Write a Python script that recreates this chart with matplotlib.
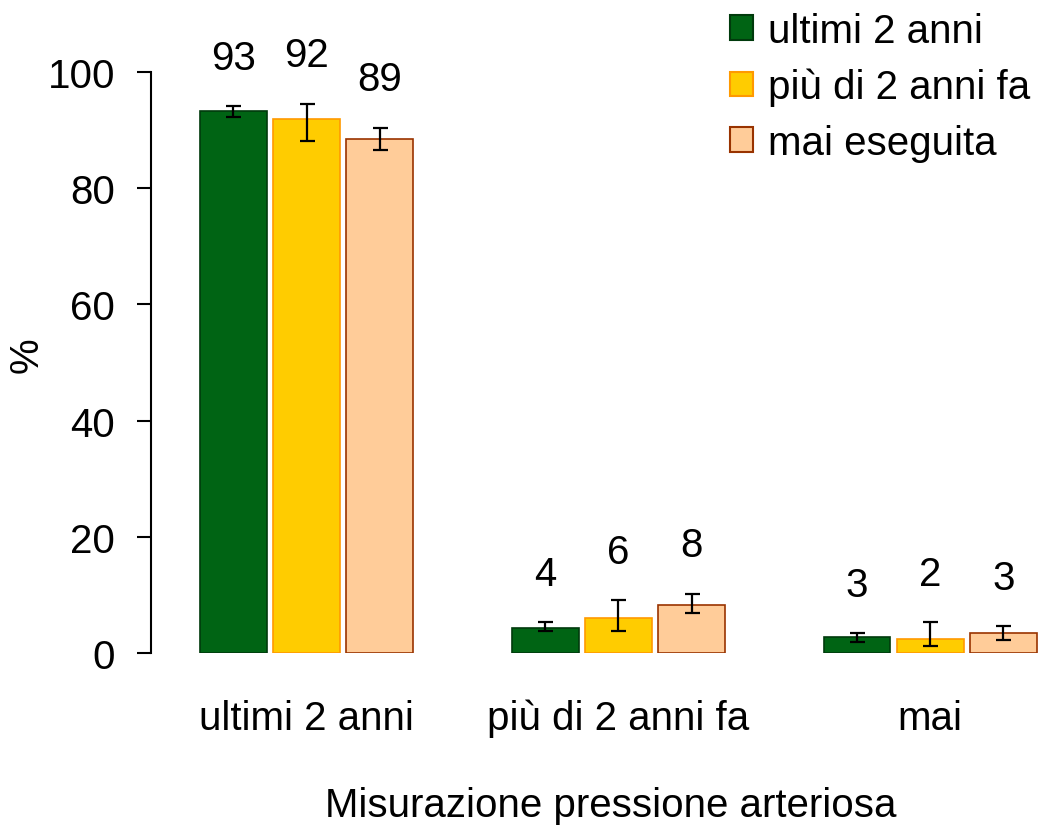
import numpy as np
import matplotlib
matplotlib.use("Agg")
import matplotlib.pyplot as plt
from matplotlib.patches import Patch

plt.rcParams['font.family'] = ['Liberation Sans', 'DejaVu Sans']

categories = ["ultimi 2 anni", "più di 2 anni fa", "mai"]
series = ["ultimi 2 anni", "più di 2 anni fa", "mai eseguita"]
values = {
    "ultimi 2 anni":    [93.3, 4.3, 2.7],
    "più di 2 anni fa": [91.9, 6.1, 2.4],
    "mai eseguita":     [88.4, 8.3, 3.4],
}
lower = {
    "ultimi 2 anni":    [92.2, 3.8, 1.9],
    "più di 2 anni fa": [88.1, 3.8, 1.2],
    "mai eseguita":     [86.6, 6.8, 2.3],
}
upper = {
    "ultimi 2 anni":    [94.1, 5.3, 3.4],
    "più di 2 anni fa": [94.5, 9.1, 5.3],
    "mai eseguita":     [90.4, 10.2, 4.6],
}
labels = {
    "ultimi 2 anni":    ["93", "4", "3"],
    "più di 2 anni fa": ["92", "6", "2"],
    "mai eseguita":     ["89", "8", "3"],
}
fills = ["#006414", "#FFCC00", "#FFCC99"]
edges = ["#003A0C", "#FF9900", "#993300"]

FS = 29
W, H = 1048, 829
fig = plt.figure(figsize=(W / 100, H / 100), dpi=100)
ax = fig.add_axes([151 / W, (H - 654) / H, (W - 151) / W, (654 - 73) / H])

group_step = 4.69
bar_step = 1.1
centers = np.arange(len(categories)) * group_step

for i, s in enumerate(series):
    x = centers + (i - 1) * bar_step
    v = np.array(values[s])
    lo = np.array(lower[s])
    hi = np.array(upper[s])
    ax.bar(x, v, width=1.0, color=fills[i], edgecolor=edges[i], linewidth=1.2, zorder=2)
    ax.errorbar(x, v, yerr=[v - lo, hi - v], fmt='none', ecolor='black',
                elinewidth=1.6, capsize=5.4, capthick=1.6, zorder=3)
    for xi, hv, lab in zip(x, hi, labels[s]):
        ax.annotate(lab, (xi, hv), xytext=(0, 35), textcoords='offset points',
                    ha='center', va='center', fontsize=FS, annotation_clip=False)

ax.set_xlim(-2.34, 11.15)
ax.set_ylim(0, 100)
ax.set_yticks([0, 20, 40, 60, 80, 100])
ax.tick_params(axis='y', labelsize=FS, length=10, width=1.5, pad=16)
ax.set_xticks(centers)
ax.set_xticklabels(categories)
ax.tick_params(axis='x', labelsize=FS, length=0, pad=33)
for sp in ['top', 'right', 'bottom']:
    ax.spines[sp].set_visible(False)
ax.spines['left'].set_linewidth(1.5)
ax.spines['left'].set_bounds(0, 100)
ax.set_ylabel("%", fontsize=FS)
ax.yaxis.set_label_coords(-105 / (W - 151), 0.515)

fig.text(611 / W, 1 - 806 / H, "Misurazione pressione arteriosa", ha='center', va='center', fontsize=FS)

handles = [Patch(facecolor=fills[i], edgecolor=edges[i], linewidth=1.5, label=series[i]) for i in range(3)]
fig.legend(handles=handles, loc='upper left', bbox_to_anchor=(730 / W, 1 - 13 / H),
           frameon=False, fontsize=FS, handlelength=0.57, handleheight=0.57,
           handletextpad=0.37, labelspacing=0.44, borderpad=0, borderaxespad=0)

fig.savefig("out.png", dpi=100)
